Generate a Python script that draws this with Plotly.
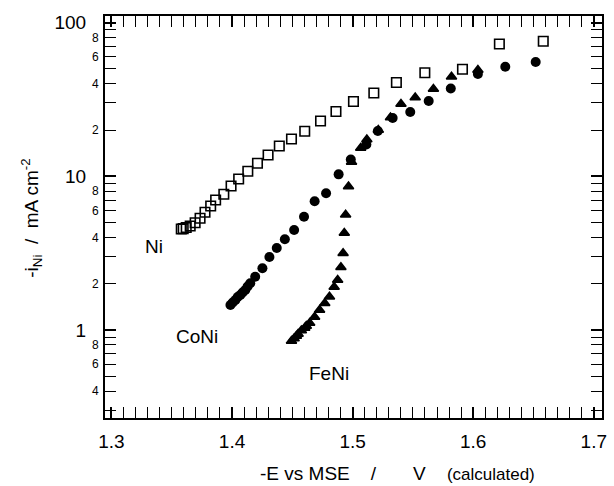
import math
import plotly.graph_objects as go

# ---- data ----
ni_x = [1.3579, 1.3595, 1.3620, 1.3653, 1.3694, 1.3735, 1.3776, 1.3823, 1.3864, 1.3932,
        1.3992, 1.4055, 1.4131, 1.4211, 1.4299, 1.4392, 1.4493, 1.4603, 1.4734, 1.4862,
        1.5007, 1.5176, 1.5363, 1.5599, 1.5911, 1.6217, 1.6581]
ni_y = [4.54, 4.57, 4.64, 4.75, 4.99, 5.33, 5.83, 6.41, 7.01, 7.64,
        8.65, 9.60, 10.78, 12.15, 13.76, 15.74, 17.49, 19.63, 22.89, 26.41,
        30.67, 34.83, 40.76, 47.21, 49.68, 72.58, 75.56]

coni_x = [1.3987, 1.4006, 1.4028, 1.4047, 1.4069, 1.4088, 1.4110, 1.4129, 1.4151, 1.4192,
          1.4252, 1.4310, 1.4371, 1.4438, 1.4515, 1.4597, 1.4685, 1.4780, 1.4884, 1.4985,
          1.5114, 1.5209, 1.5332, 1.5478, 1.5631, 1.5814, 1.6039, 1.6266, 1.6518]
coni_y = [1.454, 1.510, 1.567, 1.639, 1.690, 1.754, 1.821, 1.919, 2.013, 2.222,
          2.520, 2.985, 3.417, 3.892, 4.473, 5.460, 6.878, 7.752, 10.30, 12.86,
          16.10, 19.71, 23.95, 26.20, 30.90, 37.26, 46.30, 51.66, 55.41]

feni_x = [1.4493, 1.4515, 1.4534, 1.4548, 1.4575, 1.4603, 1.4616, 1.4644, 1.4685, 1.4726,
          1.4769, 1.4808, 1.4847, 1.4876, 1.4903, 1.4921, 1.4931, 1.4942, 1.4966, 1.4991,
          1.5067, 1.5118, 1.5213, 1.5314, 1.5401, 1.5519, 1.5670, 1.5820, 1.6039]
feni_y = [0.848, 0.880, 0.914, 0.942, 0.992, 1.030, 1.062, 1.110, 1.215, 1.349,
          1.492, 1.647, 1.905, 2.115, 2.558, 3.155, 4.276, 5.626, 8.58, 12.39,
          15.28, 17.36, 20.01, 24.13, 29.54, 32.56, 36.98, 44.46, 49.15]

x_major = [1.3, 1.4, 1.5, 1.6, 1.7]
x_major_text = ["1.3", "1.4", "1.5", "1.6", "1.7"]
x_mid = [1.35, 1.45, 1.55, 1.65]
y_major = [1, 10, 100]
y_major_text = ["1", "10", "100"]
y_minor_lab = [0.4, 0.6, 0.8, 2, 4, 6, 8, 20, 40, 60, 80]
y_minor_lab_text = ["4", "6", "8", "2", "4", "6", "8", "2", "4", "6", "8"]
y_minor_all = [0.3, 0.4, 0.5, 0.6, 0.7, 0.8, 0.9,
               2, 3, 4, 5, 6, 7, 8, 9,
               20, 30, 40, 50, 60, 70, 80, 90]

# series labels placed next to the curves (data coordinates)
label_text = ["Ni", "CoNi", "FeNi"]
label_x = [1.3351, 1.3710, 1.4802]
label_y = [3.52, 0.914, 0.525]

FONT = "Liberation Sans, Arial, Helvetica, sans-serif"
XR = [1.29466, 1.70681]
YR = [-0.5725, 2.043]

fig = go.Figure()
fig.add_trace(go.Scatter(x=ni_x, y=ni_y, mode="markers", name="Ni",
                         marker=dict(symbol="square-open", size=9.5, color="black",
                                     line=dict(width=1.6, color="black"))))
fig.add_trace(go.Scatter(x=feni_x, y=feni_y, mode="markers", name="FeNi",
                         marker=dict(symbol="triangle-up", size=9, color="black",
                                     line=dict(width=1.5, color="black"))))
fig.add_trace(go.Scatter(x=coni_x, y=coni_y, mode="markers", name="CoNi",
                         marker=dict(symbol="circle", size=10, color="black",
                                     line=dict(width=0))))
# helper traces so the overlay axes are drawn
fig.add_trace(go.Scatter(x=[], y=[], xaxis="x2", yaxis="y", showlegend=False, hoverinfo="skip"))
fig.add_trace(go.Scatter(x=[], y=[], xaxis="x", yaxis="y2", showlegend=False, hoverinfo="skip"))

axline = dict(showline=True, linewidth=2, linecolor="black", showgrid=False, zeroline=False)

fig.update_layout(
    width=614, height=486,
    margin=dict(l=105, r=7, t=16, b=68),
    paper_bgcolor="white", plot_bgcolor="white",
    showlegend=False,
    font=dict(family=FONT, color="black"),
    xaxis=dict(range=XR, tickvals=x_major, ticktext=x_major_text,
               ticks="inside", ticklen=11, tickwidth=1.5, tickcolor="black",
               mirror="allticks", tickfont=dict(size=19, family=FONT),
               ticklabelstandoff=5,
               minor=dict(tickmode="linear", tick0=1.3, dtick=0.01, ticks="inside",
                          ticklen=5, tickwidth=1, tickcolor="black"),
               **axline),
    xaxis2=dict(range=XR, overlaying="x", anchor="y", side="bottom",
                tickvals=x_mid, ticks="inside", ticklen=8, tickwidth=1.3,
                tickcolor="black", mirror="allticks", showticklabels=False, **axline),
    yaxis=dict(type="log", range=YR, tickvals=y_major, ticktext=y_major_text,
               ticks="inside", ticklen=11, tickwidth=1.5, tickcolor="black",
               mirror="allticks", tickfont=dict(size=19, family=FONT),
               ticklabelstandoff=13,
               minor=dict(tickmode="array", tickvals=y_minor_all, ticks="inside",
                          ticklen=5, tickwidth=1, tickcolor="black"),
               **axline),
    yaxis2=dict(type="log", range=YR, overlaying="y", anchor="x", side="left",
                tickvals=y_minor_lab, ticktext=y_minor_lab_text,
                ticks="inside", ticklen=5, tickwidth=1, tickcolor="black",
                mirror="allticks", tickfont=dict(size=12, family=FONT),
                ticklabelstandoff=2, **axline),
)

for t, lx, ly in zip(label_text, label_x, label_y):
    fig.add_annotation(xref="x", yref="y", x=lx, y=math.log10(ly), text=t,
                       showarrow=False, font=dict(family=FONT, size=19, color="black"),
                       xanchor="center", yanchor="middle")

fig.add_annotation(xref="paper", yref="paper", x=(400 - 105) / 502, y=(418 - 473) / 402,
                   text="-E vs MSE    /       V    <span style='font-size:17px'>(calculated)</span>",
                   showarrow=False, font=dict(family=FONT, size=19, color="black"),
                   xanchor="center", yanchor="middle")
fig.add_annotation(xref="paper", yref="paper", x=(30 - 105) / 502, y=(418 - 218) / 402,
                   text="-i<sub>Ni</sub>  /  mA cm<sup>-2</sup>", textangle=-90,
                   showarrow=False, font=dict(family=FONT, size=19, color="black"),
                   xanchor="center", yanchor="middle")

fig.write_html("out.html")
